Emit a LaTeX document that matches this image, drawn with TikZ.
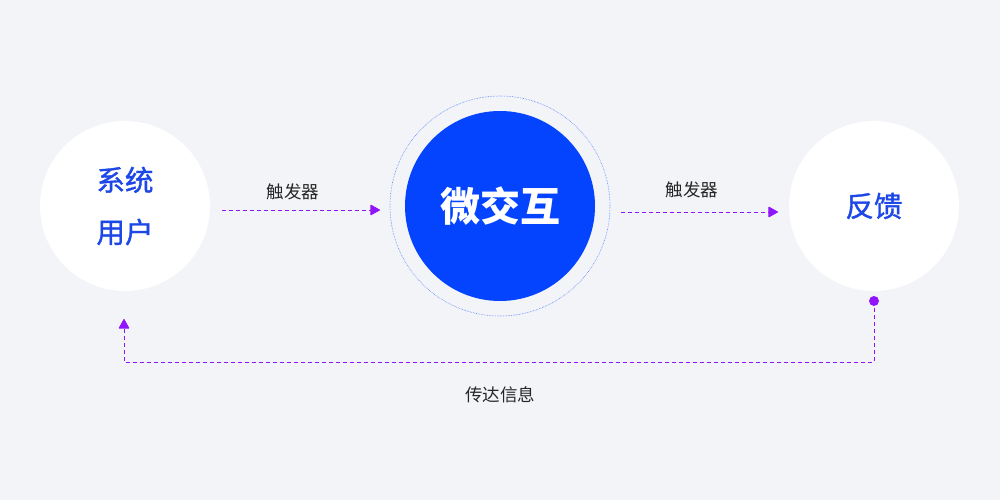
\documentclass[tikz,border=0pt]{standalone}
\usepackage{fontspec}
\newfontfamily\cjk{Noto Sans CJK SC}
\newfontfamily\cjkmed[FakeBold=1.2]{Noto Sans CJK SC}
\usetikzlibrary{arrows.meta}
\definecolor{bgc}{HTML}{F3F4F8}
\definecolor{mainblue}{HTML}{0444FF}
\definecolor{txtblue}{HTML}{1D47E6}
\definecolor{purp}{HTML}{9015F8}
\tikzset{
  x=1pt, y=-1pt,
  sidecircle/.style={circle, fill=white, minimum size=170pt, inner sep=0pt, font=\cjkmed\fontsize{28.5}{30}\selectfont, text=txtblue, align=center},
  maincircle/.style={circle, fill=mainblue, minimum size=190pt, inner sep=0pt, text=white, font=\cjk\bfseries\fontsize{40}{44}\selectfont},
  ring/.style={circle, draw=mainblue!70, densely dotted, line width=0.6pt, minimum size=220pt, inner sep=0pt},
  flow/.style={draw=purp, line width=0.9pt, dash pattern=on 4pt off 3pt, -{Triangle[round, length=10pt, width=11pt]}},
  lbl/.style={font=\cjk\fontsize{17.5}{19}\selectfont, text=black!85},
  dotc/.style={circle, fill=purp, minimum size=10pt, inner sep=0pt}
}
\begin{document}
\begin{tikzpicture}
\fill[bgc] (0,0) rectangle (1000,500);
\useasboundingbox (0,0) rectangle (1000,500);
\node[sidecircle] (user) at (125,206) {系统\\[22pt]用户};
\node[ring] (ring) at (500,206) {};
\node[maincircle] (micro) at (500,206) {微交互};
\node[sidecircle] (fb) at (874,206) {反馈};
\coordinate (a1s) at (222,210);
\coordinate (a1e) at (380,210);
\coordinate (a2s) at (621,212);
\coordinate (a2e) at (778,212);
\draw[flow] (a1s) -- (a1e);
\draw[flow] (a2s) -- (a2e);
\node[lbl] (t1) at (293,192) {触发器};
\node[lbl] (t2) at (692,190) {触发器};
\node[dotc] (dot) at (874,301) {};
\coordinate (c1) at (874,362);
\coordinate (c2) at (124,362);
\coordinate (tip) at (124,319);
\draw[flow] (dot.center) -- (c1) -- (c2) -- (tip);
\node[lbl] (t3) at (500,395) {传达信息};
\end{tikzpicture}
\end{document}
